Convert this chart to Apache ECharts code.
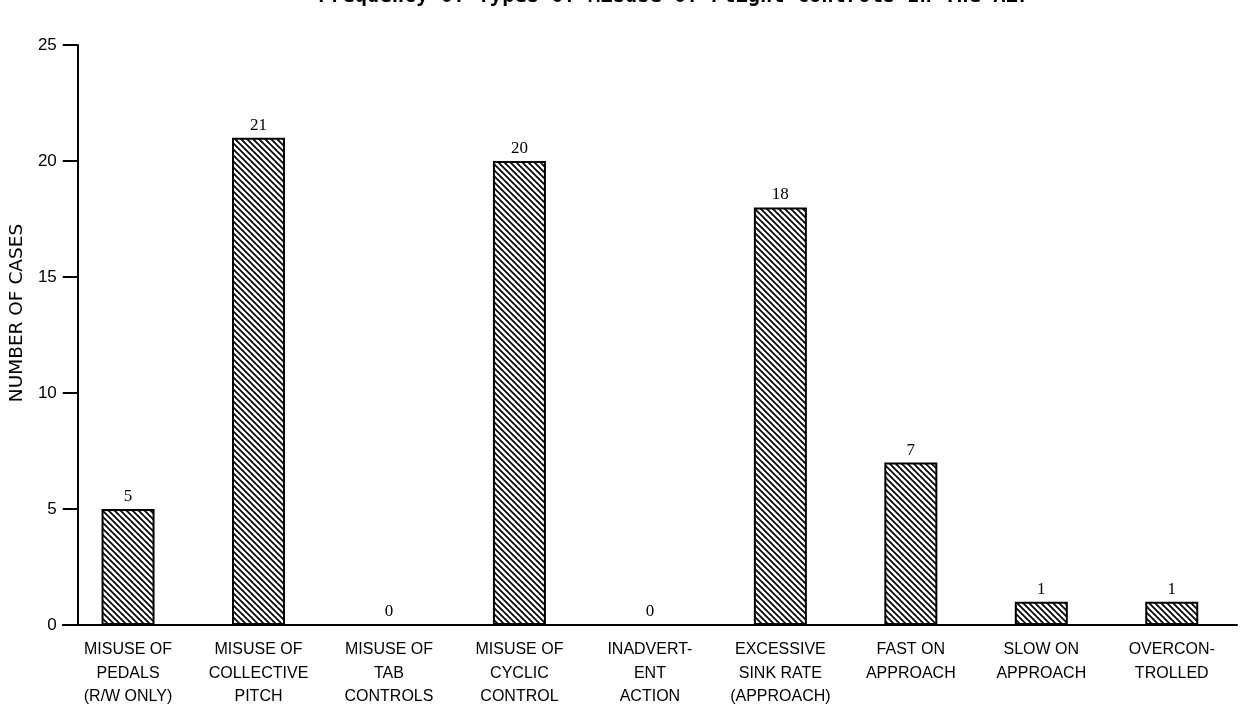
<!DOCTYPE html>
<html>
<head>
<meta charset="utf-8">
<script src="https://cdn.jsdelivr.net/npm/echarts@6/dist/echarts.min.js"></script>
<style>
html,body{margin:0;padding:0;background:#fff;}
#chart{width:1240px;height:710px;}
</style>
</head>
<body>
<div id="chart"></div>
<script>
const titleText = 'Frequency Of Types Of Misuse Of Flight Controls In The Air';
const categories = [
  'MISUSE OF\nPEDALS\n(R/W ONLY)',
  'MISUSE OF\nCOLLECTIVE\nPITCH',
  'MISUSE OF\nTAB\nCONTROLS',
  'MISUSE OF\nCYCLIC\nCONTROL',
  'INADVERT-\nENT\nACTION',
  'EXCESSIVE\nSINK RATE\n(APPROACH)',
  'FAST ON\nAPPROACH',
  'SLOW ON\nAPPROACH',
  'OVERCON-\nTROLLED'
];
const cases = [5, 21, 0, 20, 0, 18, 7, 1, 1];
const yAxisName = 'NUMBER OF CASES';

function hatch() {
  const s = 6;
  const c = document.createElement('canvas');
  c.width = s; c.height = s;
  const g = c.getContext('2d');
  g.fillStyle = '#fff';
  g.fillRect(0, 0, s, s);
  g.strokeStyle = '#000';
  g.lineWidth = 1.7;
  g.beginPath();
  g.moveTo(-1, -1); g.lineTo(s + 1, s + 1);
  g.moveTo(s - 1, -1); g.lineTo(s + 1, 1);
  g.moveTo(-1, s - 1); g.lineTo(1, s + 1);
  g.stroke();
  return c;
}

const chart = echarts.init(document.getElementById('chart'), null, {renderer: 'canvas'});
chart.setOption({
  animation: false,
  backgroundColor: '#fff',
  title: {
    text: titleText,
    left: 313,
    top: -18,
    textStyle: {fontFamily: 'DejaVu Sans Mono', fontWeight: 'bold', fontSize: 20.4, color: '#000'}
  },
  grid: {left: 62, right: 3, top: 45, bottom: 85},
  xAxis: {
    type: 'category',
    data: categories,
    axisLine: {show: true, lineStyle: {color: '#000', width: 2}},
    axisTick: {show: false},
    axisLabel: {
      interval: 0, margin: 13, lineHeight: 23.5,
      fontFamily: 'Liberation Sans', fontSize: 16, color: '#000'
    }
  },
  yAxis: {
    type: 'value',
    min: 0, max: 25, interval: 5,
    offset: -15,
    name: yAxisName,
    nameLocation: 'middle',
    nameGap: 49,
    nameTextStyle: {fontFamily: 'DejaVu Sans', fontSize: 18.5, color: '#000', padding: [0, 0, 0, 44]},
    axisLine: {show: true, lineStyle: {color: '#000', width: 2}},
    axisTick: {show: true, length: 15, lineStyle: {color: '#000', width: 2}},
    axisLabel: {margin: 21, fontFamily: 'Liberation Sans', fontSize: 17, color: '#000'},
    splitLine: {show: false}
  },
  series: [{
    type: 'bar',
    data: cases,
    barWidth: 53,
    itemStyle: {
      color: {image: hatch(), repeat: 'repeat'},
      borderColor: '#000',
      borderWidth: 2
    },
    label: {
      show: true, position: 'top', distance: 4,
      fontFamily: 'Liberation Serif', fontSize: 17, color: '#000'
    }
  }]
});
</script>
</body>
</html>
